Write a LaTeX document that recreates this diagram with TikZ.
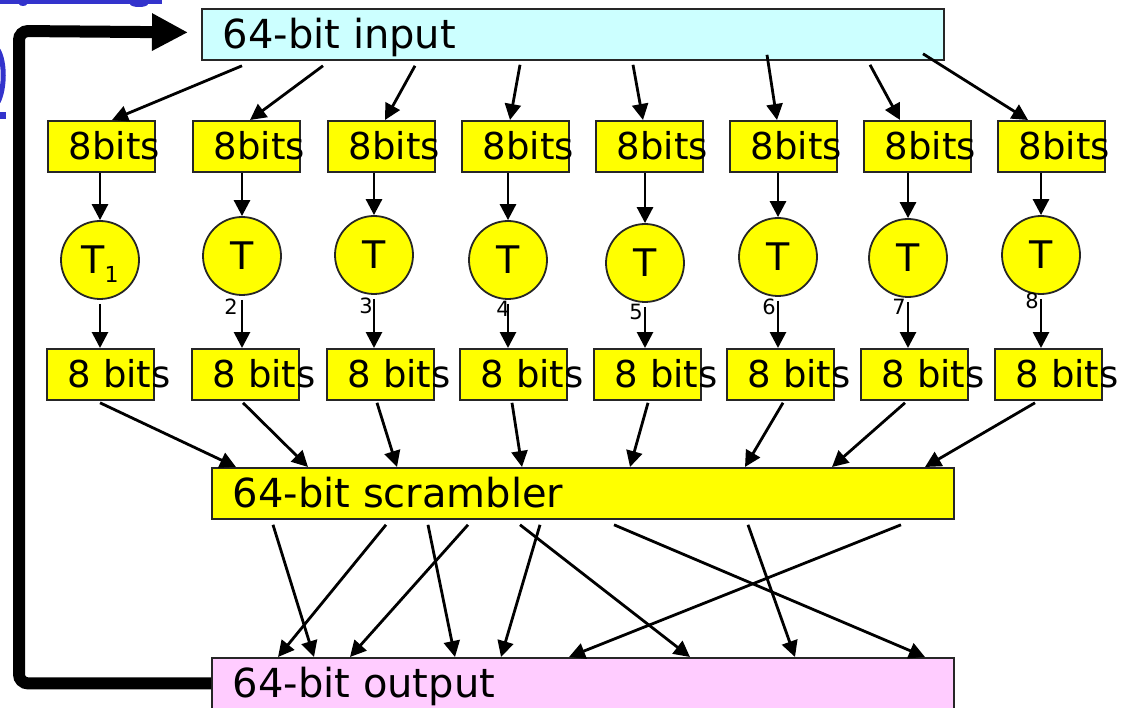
\documentclass[tikz,border=0pt]{standalone}
\usepackage{fontspec}
\setmainfont{DejaVu Sans}
\usetikzlibrary{arrows.meta,calc}
\definecolor{inputcyan}{RGB}{204,255,255}
\definecolor{outputpink}{RGB}{255,204,255}
\definecolor{boxyellow}{RGB}{255,255,0}
\definecolor{linkblue}{RGB}{51,51,204}
% left-aligned label with a fixed indent; long labels may run past the box
\newcommand\padtext[2]{\makebox[#1][l]{\hspace*{21pt}#2}}

\begin{document}
\begin{tikzpicture}[x=1pt,y=-1pt,
  box/.style={draw=black!85, line width=1.8pt, inner sep=0pt, anchor=north west, text depth=0pt},
  wide/.style={box, minimum height=51pt, font=\fontsize{40}{44}\selectfont, text height=29pt},
  byte/.style={box, fill=boxyellow, minimum height=51pt, font=\fontsize{37}{40}\selectfont, text height=27pt},
  tbox/.style={circle, draw=black!85, line width=1.8pt, fill=boxyellow, inner sep=0pt,
    minimum size=78pt, font=\fontsize{38}{40}\selectfont, text height=27.5pt, text depth=0pt},
  idx/.style={inner sep=0pt, font=\fontsize{21}{22}\selectfont},
  arr/.style={-{Triangle[length=16pt,width=16pt]}, line width=2.8pt},
  feedback/.style={-{Triangle[length=36pt,width=35pt]}, line width=12pt, rounded corners=9pt},
]
\useasboundingbox (0,0) rectangle (1126,708);

% fragments of a heading above the figure
\fill[linkblue] (0,-2) rectangle (162,4);
\fill[linkblue] (23,4) ellipse (4 and 2);
\fill[linkblue] (139,4) ellipse (9 and 3);
\draw[linkblue, line width=5pt] (-2,50) .. controls (5,62) and (5,88) .. (-2,102);
\fill[linkblue] (0,112) rectangle (6,119);

% 64-bit blocks
\node[wide, fill=inputcyan] (inp) at (201,8) {\padtext{742pt}{64-bit input}};
\node[wide, fill=boxyellow] (scr) at (211,467) {\padtext{742pt}{64-bit scrambler}};
\node[wide, fill=outputpink] (out) at (211,657) {\padtext{742pt}{64-bit output}};

% 8-bit chunks before the tables
\foreach \i/\x in {1/47,2/192,3/327,4/461,5/595,6/729,7/863,8/997}
  \node[byte] (b\i) at (\x,120) {\padtext{107pt}{8bits}};

% substitution tables
\node[tbox] (t1) at (100,260) {T\raisebox{-9pt}{\fontsize{22}{22}\selectfont 1}};
\foreach \i/\x/\y in {2/242/256,3/374/255,4/508/260,5/645/263,6/778/257,7/908/258,8/1041/255}
  \node[tbox] (t\i) at (\x,\y) {T};

% table indices
\foreach \i/\x/\y in {2/231/307,3/366/306,4/503/309,5/636/312,6/769/307,7/899/307,8/1032/301}
  \node[idx] (s\i) at (\x,\y) {\i};

% 8-bit chunks after the tables
\foreach \i/\x in {1/46,2/191,3/326,4/459,5/593,6/726,7/860,8/994}
  \node[byte] (c\i) at (\x,348) {\padtext{107pt}{8 bits}};

% input split into chunks
\foreach \i/\sx/\sy/\ex in {1/41/5/65,2/122/5/58,3/214/5/58,4/319/4/49,5/432/4/48,6/566/-6/48,7/669/4/37,8/722/-7/31}
  \draw[arr] ([shift={(\sx,\sy)}]inp.south west) -- ([shift={(\ex,0)}]b\i.north west);

% chunk -> table -> chunk
\foreach \i in {1,...,8} {
  \draw[arr] (t\i.north |- b\i.south) -- (t\i.north);
  \draw[arr] ([shift={(0,4)}]t\i.south) -- (t\i.south |- c\i.north);
}

% chunks into the scrambler
\foreach \i/\sx/\ex in {1/54/25,2/52/97,3/51/186,4/53/311,5/55/419,6/57/534,7/45/621,8/41/714}
  \draw[arr] ([shift={(\sx,2)}]c\i.south west) -- ([shift={(\ex,0)}]scr.north west);

% scrambler permutation
\foreach \sx/\ex in {62/103,175/67,217/244,257/139,309/479,329/290,403/714,537/584,690/358}
  \draw[arr] ([shift={(\sx,5)}]scr.south west) -- ([shift={(\ex,0)}]out.north west);

% feedback loop
\draw[feedback] (out.west) -| (19,31) -- ([shift={(-13,-2)}]inp.west);

\end{tikzpicture}
\end{document}
